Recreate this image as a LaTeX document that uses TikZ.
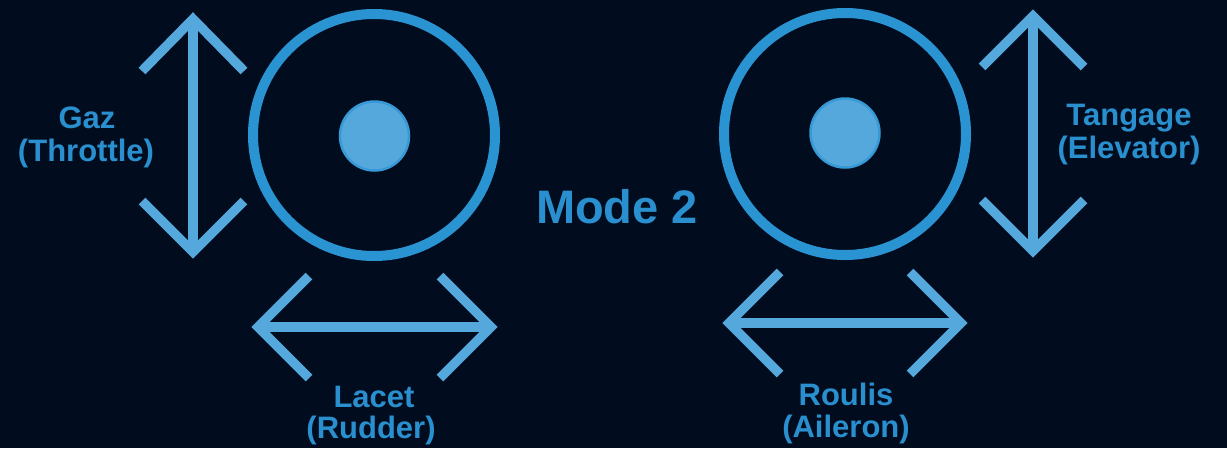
\documentclass[tikz,border=0pt]{standalone}
\usepackage{fontspec}
\setmainfont{Liberation Sans}
\definecolor{bgnavy}{HTML}{010D1F}
\definecolor{ringblue}{HTML}{2A93D2}
\definecolor{armblue}{HTML}{55A8DB}
\definecolor{labelblue}{HTML}{2A8FCE}
\begin{document}
\begin{tikzpicture}[x=1pt,y=-1pt,
  ring/.style={circle,draw=ringblue,line width=10pt,minimum size=242pt,inner sep=0pt},
  knob/.style={circle,fill=armblue,draw=ringblue!70!armblue,line width=2.5pt,minimum size=69pt,inner sep=0pt},
  arrowline/.style={draw=armblue,line width=9.5pt,line join=miter,miter limit=10},
  label/.style={text=labelblue,font=\bfseries\fontsize{31}{33}\selectfont,anchor=base,inner sep=0pt},
  title/.style={text=labelblue,font=\bfseries\fontsize{47}{50}\selectfont,anchor=base,inner sep=0pt}]
  % background and page size
  \fill[bgnavy] (0,0) rectangle (1227,448);
  \useasboundingbox (0,0) rectangle (1227,448);

  % left stick
  \node[ring] (lstick) at (374,135) {};
  \node[knob] (lknob) at (374.5,136) {};
  % right stick
  \node[ring] (rstick) at (845,134) {};
  \node[knob] (rknob) at (845,133) {};

  % throttle arrow (vertical, left)
  \coordinate (thtop) at (193,19);
  \coordinate (thbot) at (193,252);
  \draw[arrowline] (142,71) -- (thtop) -- (244,71);
  \draw[arrowline] (142,201) -- (thbot) -- (244,201);
  \draw[arrowline] (thtop) -- (thbot);

  % rudder arrow (horizontal, left)
  \coordinate (rdl) at (258,327);
  \coordinate (rdr) at (491,327);
  \draw[arrowline] (309,276) -- (rdl) -- (309,378);
  \draw[arrowline] (440,276) -- (rdr) -- (440,378);
  \draw[arrowline] (rdl) -- (rdr);

  % elevator arrow (vertical, right)
  \coordinate (eltop) at (1033,16);
  \coordinate (elbot) at (1033,251);
  \draw[arrowline] (982,67) -- (eltop) -- (1084,67);
  \draw[arrowline] (982,200) -- (elbot) -- (1084,200);
  \draw[arrowline] (eltop) -- (elbot);

  % aileron arrow (horizontal, right)
  \coordinate (all) at (729,323);
  \coordinate (alr) at (961,323);
  \draw[arrowline] (780,272) -- (all) -- (780,374);
  \draw[arrowline] (910,272) -- (alr) -- (910,374);
  \draw[arrowline] (all) -- (alr);

  % labels
  \node[label] (gaz) at (87,128) {Gaz};
  \node[label] (throttle) at (86,161) {(Throttle)};
  \node[label] (tangage) at (1129,125) {Tangage};
  \node[label] (elevator) at (1129,158) {(Elevator)};
  \node[label] (lacet) at (374,407) {Lacet};
  \node[label] (rudder) at (371,438) {(Rudder)};
  \node[label] (roulis) at (846,405) {Roulis};
  \node[label] (aileron) at (846,437) {(Aileron)};
  \node[title] (mode) at (617,223) {Mode 2};
\end{tikzpicture}
\end{document}
